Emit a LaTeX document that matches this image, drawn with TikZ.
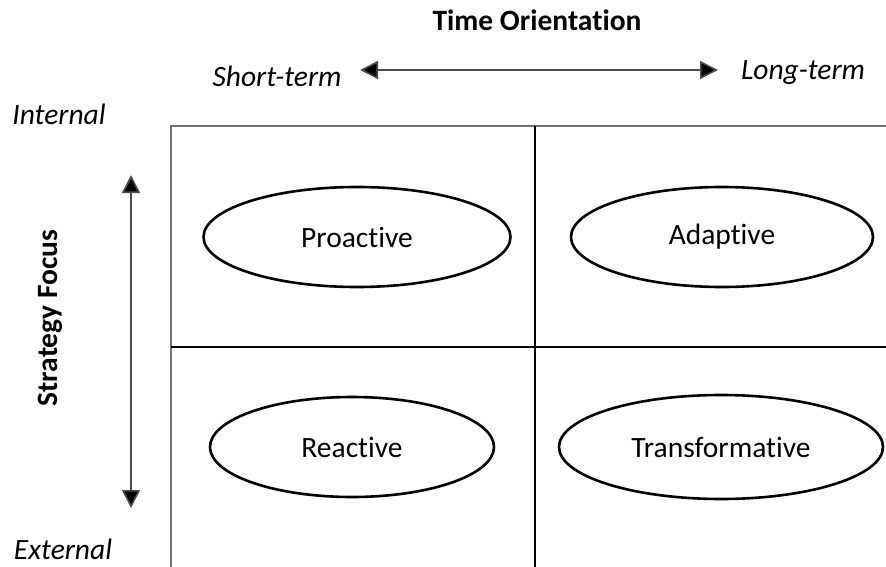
\documentclass[tikz,border=0pt]{standalone}
\usepackage{fontspec}
\setmainfont{Carlito}[Ligatures=NoCommon]
\usetikzlibrary{shapes.geometric,arrows.meta}
\begin{document}
\begin{tikzpicture}[x=1pt,y=-1pt,
  lbl/.style={font=\fontsize{29.5}{34}\selectfont\itshape, inner sep=0pt, anchor=base},
  ttl/.style={font=\fontsize{29.5}{34}\selectfont\bfseries, inner sep=0pt},
  oval/.style={draw=black, line width=2.6pt, ellipse, inner sep=0pt,
    font=\fontsize{29.5}{34}\selectfont},
  gridouter/.style={draw=black!55, line width=2pt},
  gridinner/.style={draw=black, line width=1.1pt},
  dblarrow/.style={draw=black!70, line width=1.6pt,
    {Triangle[length=18pt,width=18pt,fill=black]}-{Triangle[length=18pt,width=18pt,fill=black]}}]
  % canvas
  \useasboundingbox (0,0) rectangle (886,567);

  % quadrant grid (open on the right and at the bottom)
  \draw[gridouter] (886,126) -- (171,126) -- (171,567);
  \draw[gridinner] (535,126) -- (535,567);
  \draw[gridinner] (171,347) -- (886,347);

  % axis titles and end labels
  \node[ttl, anchor=base] (time) at (537,31) {Time Orientation};
  \node[ttl, rotate=90] (focus) at (50,318) {Strategy Focus};
  \node[lbl] (short) at (277,87) {Short-term};
  \node[lbl] (long) at (803,80) {Long-term};
  \node[lbl] (internal) at (59,125) {Internal};
  \node[lbl] (external) at (63,559) {External};

  % double-headed axis arrows
  \coordinate (hl) at (360,70);
  \coordinate (hr) at (718,70);
  \draw[dblarrow] (hl) -- (hr);
  \coordinate (vt) at (131,175);
  \coordinate (vb) at (131,508);
  \draw[dblarrow] (vt) -- (vb);

  % quadrant strategies
  \node[oval, minimum width=307pt, minimum height=100pt] (proactive) at (357,237) {Proactive};
  \node[oval, minimum width=302pt, minimum height=100pt] (adaptive) at (722,237) {Adaptive};
  \node[oval, minimum width=284pt, minimum height=100pt] (reactive) at (352,447) {Reactive};
  \node[oval, minimum width=324pt, minimum height=104pt] (transformative) at (721,447) {Transformative};
\end{tikzpicture}
\end{document}
